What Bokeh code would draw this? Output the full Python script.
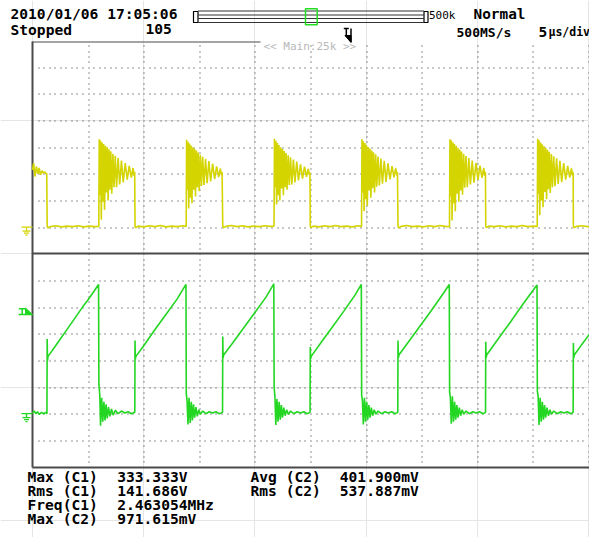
from bokeh.plotting import figure
from bokeh.models import Range1d
from bokeh.core.properties import value
from bokeh.embed import file_html
from bokeh.resources import INLINE
import numpy as np

# ---------------- data ----------------
# CH1 (yellow): times in microseconds, amplitude in volts
ch1_fall = [1.30, 9.20, 17.09, 24.96, 32.85, 40.74, 48.62]   # high -> low edges
ch1_rise = [5.96, 13.82, 21.72, 29.59, 37.50, 45.39]          # low -> high edges
ch1_start_t = [0.00, 0.10, 0.22, 0.35, 0.48, 0.60, 0.72, 0.85, 0.98, 1.10, 1.22, 1.28]
ch1_start_v = [215, 240, 190, 228, 200, 222, 196, 212, 203, 208, 200, 202]
# ringing after each rising edge (time after the edge, volts)
ch1_burst_dt = [0.00, 0.04, 0.10, 0.16, 0.23, 0.30, 0.37, 0.44, 0.52, 0.60, 0.68, 0.76,
                0.84, 0.92, 1.00, 1.08, 1.17, 1.27, 1.37, 1.48, 1.60, 1.74, 1.88, 2.04,
                2.20, 2.38, 2.56, 2.74, 2.92, 3.08, 3.18, 3.23]
ch1_bursts = [
    [3, 330, 120, 325, 28, 318, 95, 312, 65, 305, 130, 300, 100, 292, 140, 285, 125, 275, 150, 268,
     150, 260, 160, 250, 168, 240, 178, 230, 186, 222, 192, 208],
    [4, 328, 140, 320, 70, 314, 110, 306, 90, 300, 140, 294, 115, 288, 150, 280, 135, 272, 155, 264,
     158, 256, 165, 248, 172, 238, 180, 228, 188, 220, 194, 207],
    [4, 332, 150, 324, 85, 316, 120, 308, 100, 300, 145, 293, 120, 286, 150, 278, 140, 270, 158, 262,
     160, 254, 168, 246, 175, 236, 182, 227, 189, 219, 195, 206],
    [3, 330, 130, 322, 60, 316, 105, 308, 80, 301, 138, 295, 110, 288, 146, 281, 130, 273, 152, 265,
     156, 257, 163, 249, 170, 239, 179, 229, 187, 221, 194, 206],
    [3, 330, 115, 326, 25, 319, 90, 312, 60, 305, 125, 298, 95, 291, 138, 284, 122, 275, 148, 267,
     150, 259, 160, 250, 167, 241, 177, 231, 185, 222, 192, 207],
    [3, 332, 125, 326, 45, 318, 100, 311, 75, 304, 132, 297, 105, 290, 142, 283, 128, 274, 150, 266,
     154, 258, 162, 249, 169, 240, 178, 230, 186, 221, 193, 206],
]
# low level after each falling edge (time after the edge, volts)
ch1_low_dt = [0.02, 0.06, 0.30, 0.80, 1.30, 1.80, 2.30, 2.80, 3.30, 3.80, 4.30, 4.62]
ch1_lows = [
    [8, -3, 2, 5, 1, 4, 2, 5, 1, 4, 2, 3],
    [6, -3, 4, 1, 5, 2, 6, 1, 4, 2, 5, 3],
    [5, -2, 3, 6, 2, 5, 1, 4, 2, 5, 3, 4],
    [5, -2, 4, 1, 5, 2, 6, 2, 4, 1, 5, 3],
    [5, -3, 3, 6, 2, 4, 1, 5, 2, 6, 3, 2],
    [5, -2, 4, 2, 5, 1, 4, 2, 6, 2, 4, 3],
    [5, -2, 3, 5, 2, 4, 1, 5, 2, 4, 2, 3],
]

# CH2 (green): times in microseconds, amplitude in volts
ch2_t = [0.00, 0.15, 0.30, 0.45, 0.60, 0.80, 1.00, 1.20, 1.30,
         1.32, 1.35, 1.40, 2.0, 2.5, 3.0, 3.5, 4.0, 4.5, 5.0, 5.5, 5.94,
         5.97, 6.05, 6.12, 6.22, 6.32, 6.42, 6.52, 6.62, 6.72, 6.84, 6.96, 7.10, 7.25, 7.45, 7.7, 8.0, 8.3, 8.6, 8.9, 9.20,
         9.22, 9.25, 9.30, 10.0, 11.0, 12.0, 13.0, 13.80,
         13.83, 13.90, 13.98, 14.08, 14.18, 14.28, 14.38, 14.48, 14.58, 14.70, 14.82, 14.96, 15.1, 15.3, 15.6, 15.9, 16.2, 16.5, 16.8, 17.09,
         17.11, 17.14, 17.19, 18.0, 19.0, 20.0, 21.0, 21.70,
         21.73, 21.80, 21.88, 21.98, 22.08, 22.18, 22.28, 22.38, 22.48, 22.60, 22.72, 22.86, 23.0, 23.2, 23.5, 23.8, 24.1, 24.4, 24.7, 24.96,
         24.98, 25.01, 25.06, 26.0, 27.0, 28.0, 29.0, 29.57,
         29.60, 29.67, 29.75, 29.85, 29.95, 30.05, 30.15, 30.25, 30.35, 30.47, 30.59, 30.73, 30.87, 31.07, 31.4, 31.7, 32.0, 32.3, 32.6, 32.85,
         32.87, 32.90, 32.95, 34.0, 35.0, 36.0, 37.0, 37.48,
         37.51, 37.58, 37.66, 37.76, 37.86, 37.96, 38.06, 38.16, 38.26, 38.38, 38.50, 38.64, 38.78, 38.98, 39.3, 39.6, 39.9, 40.2, 40.5, 40.74,
         40.76, 40.79, 40.84, 42.0, 43.0, 44.0, 45.0, 45.37,
         45.40, 45.47, 45.55, 45.65, 45.75, 45.85, 45.95, 46.05, 46.15, 46.27, 46.39, 46.53, 46.67, 46.87, 47.2, 47.5, 47.8, 48.1, 48.4, 48.62,
         48.64, 48.67, 48.72, 49.4, 50.2]
ch2_v = [0.005, 0.02, 0.0, 0.015, -0.005, 0.01, 0.0, 0.01, 0.0,
         0.56, 0.40, 0.43, 0.50, 0.56, 0.62, 0.68, 0.74, 0.80, 0.855, 0.915, 0.97,
         0.22, 0.14, -0.09, 0.12, -0.06, 0.09, -0.05, 0.07, -0.035, 0.05, -0.02, 0.035, -0.01, 0.025, 0.0, 0.02, 0.005, 0.015, 0.0, 0.01,
         0.55, 0.41, 0.43, 0.51, 0.63, 0.745, 0.86, 0.97,
         0.15, 0.10, -0.08, 0.12, -0.07, 0.09, -0.05, 0.07, -0.03, 0.05, -0.02, 0.03, -0.005, 0.02, 0.0, 0.015, 0.005, 0.015, 0.0, 0.01,
         0.58, 0.42, 0.44, 0.53, 0.645, 0.76, 0.875, 0.975,
         0.20, 0.13, -0.085, 0.11, -0.06, 0.09, -0.045, 0.065, -0.03, 0.045, -0.015, 0.03, -0.005, 0.02, 0.0, 0.015, 0.005, 0.015, 0.0, 0.01,
         0.50, 0.41, 0.43, 0.54, 0.655, 0.77, 0.89, 0.97,
         0.14, 0.10, -0.08, 0.12, -0.06, 0.09, -0.045, 0.065, -0.03, 0.045, -0.015, 0.03, -0.005, 0.02, 0.0, 0.015, 0.005, 0.015, 0.0, 0.01,
         0.55, 0.42, 0.44, 0.56, 0.675, 0.79, 0.91, 0.97,
         0.16, 0.12, -0.075, 0.13, -0.06, 0.09, -0.045, 0.065, -0.03, 0.045, -0.015, 0.03, -0.005, 0.02, 0.0, 0.015, 0.005, 0.015, 0.0, 0.01,
         0.54, 0.42, 0.44, 0.575, 0.69, 0.81, 0.925, 0.965,
         0.17, 0.13, -0.085, 0.12, -0.06, 0.09, -0.045, 0.065, -0.03, 0.045, -0.015, 0.03, -0.005, 0.02, 0.0, 0.015, 0.005, 0.015, 0.0, 0.01,
         0.53, 0.42, 0.44, 0.52, 0.61]

header_left = ["2010/01/06 17:05:06", "Stopped"]
acq_count = "105"
mode_text = "Normal"
record_text = "500k"
rate_text = "500MS/s"
tdiv_num = "5"
tdiv_unit = "\u00b5s/div"
zoom_text = "<< Main:25k >>"
meas_labels_1 = ["Max (C1)", "Rms (C1)", "Freq(C1)", "Max (C2)"]
meas_values_1 = ["333.333V", "141.686V", "2.463054MHz", "971.615mV"]
meas_labels_2 = ["Avg (C2)", "Rms (C2)"]
meas_values_2 = ["401.900mV", "537.887mV"]

# scope settings
TIME_PER_DIV = 5.0        # us/div
CH1_V_PER_DIV = 100.0     # V/div
CH1_GND_DIV = 1.0         # ground position (div above centre line)
CH2_V_PER_DIV = 0.2       # V/div
CH2_GND_DIV = -6.0
N_HDIV = 10
PANEL_DIV = 8
T_MAX = 50.2

# assemble CH1 record
t1, v1 = list(ch1_start_t), list(ch1_start_v)
for i, f in enumerate(ch1_fall):
    for dt, vv in zip(ch1_low_dt, ch1_lows[i]):
        if f + dt <= T_MAX:
            t1.append(f + dt); v1.append(vv)
    if i < len(ch1_rise):
        r = ch1_rise[i]
        for dt, vv in zip(ch1_burst_dt, ch1_bursts[i]):
            t1.append(r + dt); v1.append(vv)
if t1[-1] < T_MAX:
    t1.append(T_MAX); v1.append(v1[-1])

# ---------------- layout helpers (pixel -> plot units) ----------------
GL, DXP, MIDY, DYP = 32.0, 55.6, 253.3, 26.65
def X(px):
    return (px - GL) / DXP * TIME_PER_DIV
def Y(py):
    return (MIDY - py) / DYP

W, H = 589, 537
p = figure(width=W, height=H, x_range=Range1d(X(0), X(W)), y_range=Range1d(Y(H), Y(0)),
           output_backend="svg", toolbar_location=None,
           x_axis_location=None, y_axis_location=None, min_border=0)
p.outline_line_color = None
p.background_fill_color = "white"
p.border_fill_color = "white"

# dotted graticule: single-pixel dots snapped to pixel centres
gx, gy = [], []
for d in list(range(1, PANEL_DIV)) + list(range(-PANEL_DIV + 1, 0)):
    py = int(round(MIDY - d * DYP)) + 0.5
    for j in range(1, N_HDIV * 10):
        px = int(round(GL + j * DXP / 10)) + 0.5
        gx.append(X(px)); gy.append(Y(py))
for k in range(1, N_HDIV + 1):
    px = int(round(GL + k * DXP)) + 0.5
    for j in range(-PANEL_DIV * 5 + 1, PANEL_DIV * 5):
        if j % 5 == 0 and j != 0:
            continue
        py = int(round(MIDY - j * DYP / 5)) + 0.5
        gx.append(X(px)); gy.append(Y(py))
p.rect(x=gx, y=gy, width=1, height=1, width_units="screen", height_units="screen",
       fill_color="#2a2a2a", line_color=None)

# frame lines
frame_col = "#4a4a4a"
p.segment(x0=[X(32)], y0=[Y(467)], x1=[X(32)], y1=[Y(41)], line_color=frame_col, line_width=2)
p.segment(x0=[X(32)], y0=[Y(41.5)], x1=[X(260)], y1=[Y(41.5)], line_color=frame_col, line_width=1.2)
p.segment(x0=[X(32), X(32)], y0=[Y(253), Y(467)], x1=[X(W), X(W)], y1=[Y(253), Y(467)],
          line_color=frame_col, line_width=2)

# traces
yellow = "#d4d400"
green = "#22d622"
c1 = np.array(v1) / CH1_V_PER_DIV + CH1_GND_DIV
c2 = np.array(ch2_v) / CH2_V_PER_DIV + CH2_GND_DIV
p.line(t1, c1, line_color=yellow, line_width=1.6)
p.line(ch2_t, c2, line_color=green, line_width=1.6)

# ground markers
def ground_marker(gdiv, color):
    gy0 = MIDY - gdiv * DYP
    xs0 = [21, 26, 22, 23.5, 25]
    xs1 = [32, 26, 30, 28.5, 27]
    ys0 = [gy0, gy0, gy0 + 4, gy0 + 6, gy0 + 8]
    ys1 = [gy0, gy0 + 4, gy0 + 4, gy0 + 6, gy0 + 8]
    p.segment(x0=[X(v) for v in xs0], y0=[Y(v) for v in ys0],
              x1=[X(v) for v in xs1], y1=[Y(v) for v in ys1],
              line_color=color, line_width=1.3)
ground_marker(CH1_GND_DIV, yellow)
ground_marker(CH2_GND_DIV, green)

# trigger level marker (left, green)
ty = 314.0
p.segment(x0=[X(18.3), X(21.7), X(18)], y0=[Y(308.3), Y(308.3), Y(ty)],
          x1=[X(25), X(21.7), X(32)], y1=[Y(308.3), Y(ty), Y(ty)],
          line_color=green, line_width=1.5)
p.patch([X(25), X(25), X(32)], [Y(307.5), Y(ty), Y(ty)], fill_color=green, line_color=green)

# trigger position marker (top)
p.segment(x0=[X(343.3), X(345.8), X(350.5)], y0=[Y(28), Y(28), Y(28)],
          x1=[X(348.3), X(345.8), X(350.5)], y1=[Y(28), Y(36.5), Y(41.5)],
          line_color="black", line_width=1.5)
p.patch([X(344.5), X(350.5), X(350.5)], [Y(35), Y(35), Y(42)], fill_color="black", line_color="black")

# record slider
p.quad(left=[X(193)], right=[X(197.5)], top=[Y(11)], bottom=[Y(22)],
       fill_color=None, line_color="black", line_width=1.2)
p.quad(left=[X(423.5)], right=[X(427.5)], top=[Y(11)], bottom=[Y(22)],
       fill_color=None, line_color="black", line_width=1.2)
p.segment(x0=[X(197.5)] * 4, y0=[Y(10.5), Y(14.5), Y(18), Y(22)],
          x1=[X(423.5)] * 4, y1=[Y(10.5), Y(14.5), Y(18), Y(22)],
          line_color="#333333", line_width=1.2)
p.quad(left=[X(305)], right=[X(316.7)], top=[Y(8.3)], bottom=[Y(24.3)],
       fill_color=None, line_color="#22dd22", line_width=1.5)

# texts
TEXT_SHIFT = -5.5
font = value("DejaVu Sans Mono")
def txt(xs, ys, texts, size, color="black", style="bold"):
    p.text(x=[X(v) for v in xs], y=[Y(v + TEXT_SHIFT) for v in ys], text=texts,
           text_font=font, text_font_size=size, text_font_style=style,
           text_color=color, text_baseline="alphabetic", text_align="left")

txt([10, 10], [18.5, 34], header_left, "14.6px")
txt([145], [34], [acq_count], "14.6px")
txt([473], [18.5], [mode_text], "14.4px")
txt([428.5], [20], [record_text], "11px", style="normal")
txt([456], [37], [rate_text], "13px")
txt([538], [37], [tdiv_num], "14.6px")
txt([548], [37], [tdiv_unit], "11.5px")
txt([263], [51], [zoom_text], "11px", color="#b8b8b8", style="normal")

rows = [481, 495.3, 509.5, 523.6]
txt([27] * 4, rows, meas_labels_1, "14.6px")
txt([116.7] * 4, rows, meas_values_1, "14.6px")
txt([250] * 2, rows[:2], meas_labels_2, "14.6px")
txt([339.3] * 2, rows[:2], meas_values_2, "14.6px")

open("out.html", "w").write(file_html(p, INLINE))
